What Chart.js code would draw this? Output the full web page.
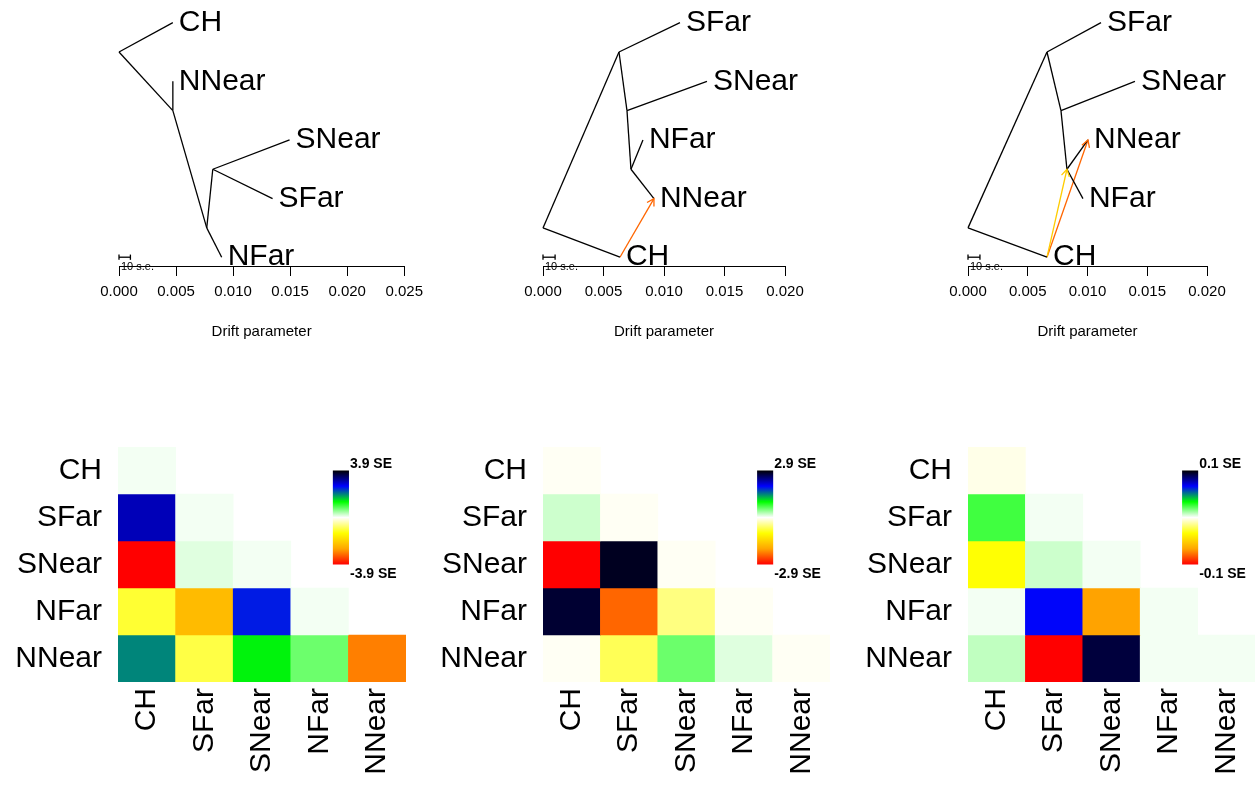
<!DOCTYPE html>
<html>
<head>
<meta charset="utf-8">
<script src="https://cdn.jsdelivr.net/npm/chart.js@4.4.1/dist/chart.umd.min.js"></script>
<style>
  body { margin: 0; background: #fff; width: 1259px; height: 789px; position: relative; overflow: hidden; }
  .panel { position: absolute; }
</style>
</head>
<body>
<div class="panel" style="left:0;top:0;width:430px;height:341px"><canvas id="tree1"></canvas></div>
<div class="panel" style="left:420px;top:0;width:400px;height:341px"><canvas id="tree2"></canvas></div>
<div class="panel" style="left:840px;top:0;width:419px;height:341px"><canvas id="tree3"></canvas></div>
<div class="panel" style="left:0;top:400px;width:430px;height:389px"><canvas id="resid1"></canvas></div>
<div class="panel" style="left:420px;top:400px;width:440px;height:389px"><canvas id="resid2"></canvas></div>
<div class="panel" style="left:840px;top:400px;width:450px;height:389px"><canvas id="resid3"></canvas></div>
<script>
const pops = ['CH', 'SFar', 'SNear', 'NFar', 'NNear'];

// tree 1, no migration
const tree1Nodes = ['root', 'CH', 'n1', 'NNear', 'n2', 'NFar', 'n3', 'SNear', 'SFar'];
const tree1X = [0, 0.00472, 0.00472, 0.00472, 0.00769, 0.0090, 0.00822, 0.01495, 0.01346];
const tree1Y = [3.5, 4, 2.5, 3, 0.5, 0, 1.5, 2, 1];
const tree1Edges = [['root','CH'], ['root','n1'], ['n1','NNear'], ['n1','n2'], ['n2','NFar'], ['n2','n3'], ['n3','SNear'], ['n3','SFar']];
const tree1Mig = [];

// tree 2, one migration edge
const tree2Nodes = ['root', 'CH', 'a', 'SFar', 'b', 'SNear', 'c', 'NFar', 'NNear'];
const tree2X = [0, 0.00636, 0.00628, 0.01132, 0.00694, 0.01355, 0.00727, 0.00826, 0.00917];
const tree2Y = [0.5, 0, 3.5, 4, 2.5, 3, 1.5, 2, 1];
const tree2Edges = [['root','CH'], ['root','a'], ['a','SFar'], ['a','b'], ['b','SNear'], ['b','c'], ['c','NFar'], ['c','NNear']];
const tree2Mig = [['CH', 'NNear', 0.3]];

// tree 3, two migration edges
const tree3Nodes = ['root', 'CH', 'a', 'SFar', 'b', 'SNear', 'c', 'NNear', 'NFar'];
const tree3X = [0, 0.00661, 0.00661, 0.01113, 0.00778, 0.01397, 0.00828, 0.01004, 0.00962];
const tree3Y = [0.5, 0, 3.5, 4, 2.5, 3, 1.5, 2, 1];
const tree3Edges = [['root','CH'], ['root','a'], ['a','SFar'], ['a','b'], ['b','SNear'], ['b','c'], ['c','NNear'], ['c','NFar']];
const tree3Mig = [['CH', 'c', 0.1], ['CH', 'NNear', 0.3]];

const treeMaxX = [0.025, 0.02, 0.02];
const seBar = 0.001;

// residuals (lower triangle, rows/cols in pops order)
const resid1 = [
  [0.06],
  [2.96, 0.06],
  [-3.9, 0.16, 0.06],
  [-1.04, -2.28, 2.46, 0.06],
  [1.92, -0.95, 1.36, 0.75, -2.9]
];
const resid2 = [
  [-0.04],
  [0.19, -0.04],
  [-2.9, 2.78, -0.04],
  [2.71, -2.3, -0.48, -0.04],
  [-0.04, -0.64, 0.56, 0.12, -0.04]
];
const resid3 = [
  [-0.003],
  [0.025, 0.0016],
  [-0.033, 0.0067, 0.0016],
  [0.0016, 0.066, -0.067, 0.0016],
  [0.0083, -0.1, 0.092, 0.0016, 0.0016]
];
const residMax = [3.9, 2.9, 0.1];

const FONT = '"Liberation Sans", Arial, sans-serif';
Chart.defaults.font.family = FONT;
Chart.defaults.color = '#000';
Chart.defaults.animation = false;

const palette = ['#FF0000', '#FFA500', '#FFFF00', '#FFFFFF', '#00FF00', '#0000FF', '#000000'];
const hex = c => [1, 3, 5].map(i => parseInt(c.slice(i, i + 2), 16));

const residColor = (v, max) => {
  const p = (Math.max(-1, Math.min(1, v / max)) + 1) / 2 * (palette.length - 1);
  const i = Math.min(Math.floor(p), palette.length - 2);
  const f = p - i;
  const a = hex(palette[i]), b = hex(palette[i + 1]);
  const rgb = a.map((c, k) => Math.round(c + (b[k] - c) * f));
  return `rgb(${rgb.join(',')})`;
}

const migColor = w => `rgb(255,${Math.round(255 * (1 - Math.min(w / 0.5, 1)))},0)`;

const treePlugin = (nodes, xs, ys, migs) => ({
  id: 'treeDecor',
  afterDatasetsDraw(chart) {
    const {ctx, scales: {x, y}} = chart;
    const px = n => x.getPixelForValue(xs[nodes.indexOf(n)]);
    const py = n => y.getPixelForValue(ys[nodes.indexOf(n)]);
    ctx.save();
    // arrow heads
    migs.forEach(([from, to, w]) => {
      const x1 = px(to), y1 = py(to);
      const ang = Math.atan2(y1 - py(from), x1 - px(from));
      ctx.strokeStyle = migColor(w);
      ctx.lineWidth = 1.3;
      ctx.beginPath();
      ctx.moveTo(x1 - 8 * Math.cos(ang - Math.PI / 6), y1 - 8 * Math.sin(ang - Math.PI / 6));
      ctx.lineTo(x1, y1);
      ctx.lineTo(x1 - 8 * Math.cos(ang + Math.PI / 6), y1 - 8 * Math.sin(ang + Math.PI / 6));
      ctx.stroke();
    });
    // tip labels
    ctx.fillStyle = '#000';
    ctx.font = '30px ' + FONT;
    ctx.textAlign = 'left';
    ctx.textBaseline = 'middle';
    nodes.forEach(n => {
      if (pops.includes(n)) ctx.fillText(n, px(n) + 6, py(n));
    });
    ctx.font = '11px ' + FONT;
    ctx.fillText('10 s.e.', x.getPixelForValue(0) + 2, y.getPixelForValue(0) + 10);
    ctx.restore();
  }
});

const makeTree = (id, nodes, xs, ys, edges, migs, xmax, padL, padR) => {
  const pt = n => ({x: xs[nodes.indexOf(n)], y: ys[nodes.indexOf(n)]});
  const line = (data, color) => ({data, showLine: true, borderColor: color, borderWidth: 1.3, pointRadius: 0, clip: false});
  const datasets = edges.map(([a, b]) => line([pt(a), pt(b)], '#000'));
  migs.forEach(([a, b, w]) => datasets.push(line([pt(a), pt(b)], migColor(w))));
  // scale bar
  datasets.push(line([{x: 0, y: 0}, {x: seBar, y: 0}], '#000'));
  datasets.push(line([{x: 0, y: -0.045}, {x: 0, y: 0.045}], '#000'));
  datasets.push(line([{x: seBar, y: -0.045}, {x: seBar, y: 0.045}], '#000'));

  new Chart(document.getElementById(id), {
    type: 'scatter',
    data: {datasets},
    options: {
      responsive: true,
      maintainAspectRatio: false,
      layout: {padding: {left: padL, right: padR, top: 8, bottom: 0}},
      plugins: {legend: {display: false}, tooltip: {enabled: false}},
      scales: {
        x: {
          type: 'linear', min: 0, max: xmax,
          border: {display: true, color: '#000', width: 1},
          grid: {display: true, drawOnChartArea: false, drawTicks: true, tickLength: 10, tickColor: '#000', lineWidth: 1},
          ticks: {stepSize: 0.005, padding: 7, font: {size: 15}, maxRotation: 0, autoSkip: false, callback: v => v.toFixed(3)},
          title: {display: true, text: 'Drift parameter', font: {size: 15}, padding: 0},
          afterFit: s => { s.height = 75; }
        },
        y: {type: 'linear', min: -0.15, max: 4.25, display: false}
      }
    },
    plugins: [treePlugin(nodes, xs, ys, migs)]
  });
}

const colorbarPlugin = max => ({
  id: 'colorbar',
  afterDraw(chart) {
    const {ctx, scales: {x, y}} = chart;
    const x0 = x.getPixelForValue(3.23), x1 = x.getPixelForValue(3.51);
    const top = y.getPixelForValue(0.5), bot = y.getPixelForValue(2.5);
    const g = ctx.createLinearGradient(0, bot, 0, top);
    palette.forEach((c, i) => g.addColorStop(i / (palette.length - 1), c));
    ctx.save();
    ctx.fillStyle = g;
    ctx.fillRect(x0, top, x1 - x0, bot - top);
    ctx.fillStyle = '#000';
    ctx.font = 'bold 14px ' + FONT;
    ctx.textAlign = 'left';
    ctx.textBaseline = 'alphabetic';
    ctx.fillText(max + ' SE', x1 + 1, top - 3);
    ctx.fillText('-' + max + ' SE', x1 + 1, bot + 13);
    ctx.restore();
  }
});

const makeResid = (id, resid, max, yWidth, padR) => {
  const datasets = pops.map((_, r) => ({
    data: pops.map((_, c) => c <= r ? [r, r + 1] : null),
    backgroundColor: pops.map((_, c) => c <= r ? residColor(resid[r][c], max) : 'transparent'),
    borderWidth: 0,
    barPercentage: 1,
    categoryPercentage: 1,
    grouped: false
  }));

  new Chart(document.getElementById(id), {
    type: 'bar',
    data: {labels: pops, datasets},
    options: {
      responsive: true,
      maintainAspectRatio: false,
      layout: {padding: {left: 0, right: padR, top: 47, bottom: 0}},
      plugins: {legend: {display: false}, tooltip: {enabled: false}},
      scales: {
        x: {
          grid: {display: false, drawTicks: false, tickLength: 0},
          border: {display: false},
          ticks: {font: {size: 30}, minRotation: 90, maxRotation: 90, autoSkip: false, padding: 6},
          afterFit: s => { s.height = 107; }
        },
        y: {
          type: 'linear', min: 0, max: 5, reverse: true,
          grid: {display: false, drawTicks: false, tickLength: 0},
          border: {display: false},
          ticks: {font: {size: 30}, padding: 16, callback: v => pops[Math.floor(v)]},
          afterBuildTicks: s => { s.ticks = [0.5, 1.5, 2.5, 3.5, 4.5].map(v => ({value: v})); },
          afterFit: s => { s.width = yWidth; }
        }
      }
    },
    plugins: [colorbarPlugin(max)]
  });
}

makeTree('tree1', tree1Nodes, tree1X, tree1Y, tree1Edges, tree1Mig, treeMaxX[0], 119, 25);
makeTree('tree2', tree2Nodes, tree2X, tree2Y, tree2Edges, tree2Mig, treeMaxX[1], 123, 35);
makeTree('tree3', tree3Nodes, tree3X, tree3Y, tree3Edges, tree3Mig, treeMaxX[2], 128, 52);

makeResid('resid1', resid1, residMax[0], 118, 24);
makeResid('resid2', resid2, residMax[1], 123, 30);
makeResid('resid3', resid3, residMax[2], 128, 35);
</script>
</body>
</html>
